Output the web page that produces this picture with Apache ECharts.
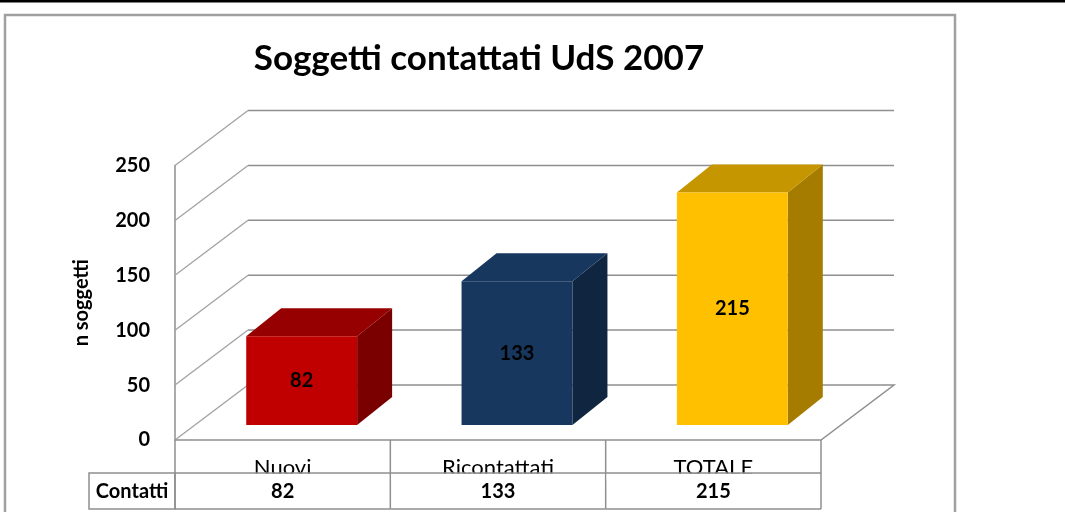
<!DOCTYPE html>
<html><head><meta charset="utf-8">
<script src="https://cdn.jsdelivr.net/npm/echarts@6/dist/echarts.min.js"></script>
<style>html,body{margin:0;padding:0;background:#fff}#c{width:1065px;height:512px}</style>
</head><body><div id="c"></div>
<script>
// ---- data ----
const chartTitle = 'Soggetti contattati UdS 2007';
const yAxisName = 'n soggetti';
const seriesName = 'Contatti';
const categories = ['Nuovi', 'Ricontattati', 'TOTALE'];
const values = [82, 133, 215];
const yTicks = [0, 50, 100, 150, 200, 250];

// ---- style ----
const FONT = 'Lato';
const frontColors = ['#C00000', '#17375E', '#FFC000'];
const topColors = ['#960000', '#18375F', '#C69600'];
const sideColors = ['#7A0000', '#10253F', '#A57C00'];
const GRID_COLOR = '#8f8f8f';
const DX = 73, DY = -55;   // back wall offset
const BX = 19, BY = -15;   // bar front plane offset
const PX = 35, PY = -28;   // bar depth

const chart = echarts.init(document.getElementById('c'), null, {renderer: 'canvas'});

const option = {
  backgroundColor: '#ffffff',
  animation: false,
  title: {
    text: chartTitle, left: 474, top: 36, textAlign: 'center',
    textStyle: {fontFamily: FONT, fontSize: 35, fontWeight: 'bold', color: '#000'}
  },
  graphic: {elements: [
    {type: 'rect', shape: {x: 0, y: 0, width: 1065, height: 2.5}, style: {fill: '#000'}, z: 100},
    {type: 'rect', shape: {x: 5, y: 15, width: 950, height: 520}, style: {fill: 'none', stroke: '#a0a0a0', lineWidth: 2.5}, z: 100}
  ]},
  grid: {left: 175, top: 165.5, width: 646, height: 274.5},
  xAxis: {
    type: 'category', data: categories, boundaryGap: true,
    axisLine: {show: false}, axisTick: {show: false}, splitLine: {show: false},
    axisLabel: {margin: 17, fontFamily: FONT, fontSize: 22, color: '#000'}
  },
  yAxis: {
    type: 'value', min: 0, max: 250, interval: 50,
    name: yAxisName, nameLocation: 'middle', nameGap: 83, nameRotate: 90,
    nameTextStyle: {fontFamily: FONT, fontSize: 20, fontWeight: 'bold', color: '#000'},
    axisLine: {show: true, lineStyle: {color: GRID_COLOR, width: 1.5}},
    axisTick: {show: false}, splitLine: {show: false},
    axisLabel: {margin: 25, fontFamily: FONT, fontSize: 20, fontWeight: 'bold', color: '#000'}
  },
  series: [
    { // walls & floor
      type: 'custom', z: 1, silent: true,
      data: yTicks.map(v => [0, v]),
      encode: {x: 0, y: 1},
      renderItem: (params, api) => {
        const v = api.value(1);
        const y = api.coord([0, v])[1];
        const cs = params.coordSys;
        const xl = cs.x, xr = cs.x + cs.width;
        const pts = [[xl, y], [xl + DX, y + DY], [xr + DX, y + DY]];
        if (v === 0) { pts.push([xr, y]); pts.push([xl, y]); }
        return {type: 'group', children: [
          {type: 'line', shape: {x1: xl, y1: y, x2: xl + DX, y2: y + DY}, style: {stroke: '#a2a2a2', lineWidth: 1.3}},
          {type: 'polyline', shape: {points: pts.slice(1)}, style: {stroke: GRID_COLOR, lineWidth: 1.5, fill: 'none'}}
        ]};
      }
    },
    { // 3D bars
      type: 'custom', name: seriesName, z: 3,
      data: values.map((v, i) => [i, v]),
      encode: {x: 0, y: 1},
      renderItem: (params, api) => {
        const i = api.value(0), v = api.value(1);
        const base = api.coord([i, 0]);
        const top = api.coord([i, v]);
        const bw = api.size([1, 0])[0] * 0.515;
        const h = (base[1] - top[1]) * 0.985;
        const x0 = base[0] - bw / 2 + BX, x1 = x0 + bw;
        const yb = base[1] + BY, yt = yb - h;
        return {type: 'group', children: [
          {type: 'polygon', shape: {points: [[x1, yb], [x1 + PX, yb + PY], [x1 + PX, yt + PY], [x1, yt]]}, style: {fill: sideColors[i]}},
          {type: 'polygon', shape: {points: [[x0, yt], [x0 + PX, yt + PY], [x1 + PX, yt + PY], [x1, yt]]}, style: {fill: topColors[i]}},
          {type: 'rect', shape: {x: x0, y: yt, width: bw, height: h}, style: {fill: frontColors[i]}},
          {type: 'text', style: {text: String(v), x: (x0 + x1) / 2, y: (yt + yb) / 2, align: 'center', verticalAlign: 'middle',
            font: 'bold 20px ' + FONT, fill: '#000'}}
        ]};
      }
    },
    { // data table
      type: 'custom', z: 4, silent: true,
      data: values.map((v, i) => [i, v]),
      encode: {x: 0, y: 1},
      renderItem: (params, api) => {
        const i = api.value(0), v = api.value(1);
        const c = api.coord([i, 0]);
        const bw = api.size([1, 0])[0];
        const xl = c[0] - bw / 2, xr = c[0] + bw / 2;
        const yTop = c[1], yMid = c[1] + 33, yBot = c[1] + 69;
        const ls = {stroke: GRID_COLOR, lineWidth: 1.5};
        const ch = [
          {type: 'rect', shape: {x: xl + 1, y: yMid + 0.5, width: bw - 2, height: 7}, style: {fill: '#fff'}},
          {type: 'line', shape: {x1: xl, y1: yMid, x2: xr, y2: yMid}, style: ls},
          {type: 'line', shape: {x1: xl, y1: yBot, x2: xr, y2: yBot}, style: ls},
          {type: 'line', shape: {x1: xr, y1: yTop, x2: xr, y2: yBot}, style: ls},
          {type: 'text', style: {text: String(v), x: c[0], y: (yMid + yBot) / 2 + 1, align: 'center', verticalAlign: 'middle',
            font: 'bold 20px ' + FONT, fill: '#000'}}
        ];
        if (i === 0) {
          ch.push({type: 'line', shape: {x1: xl, y1: yTop, x2: xl, y2: yBot}, style: ls});
          ch.push({type: 'rect', shape: {x: xl - 86, y: yMid, width: 86, height: yBot - yMid}, style: {fill: 'none', stroke: GRID_COLOR, lineWidth: 1.5}});
          ch.push({type: 'text', style: {text: seriesName, x: xl - 43, y: (yMid + yBot) / 2 + 1, align: 'center', verticalAlign: 'middle',
            font: 'bold 20px ' + FONT, fill: '#000'}});
        }
        return {type: 'group', children: ch};
      }
    }
  ]
};
chart.setOption(option);
</script>
</body></html>
